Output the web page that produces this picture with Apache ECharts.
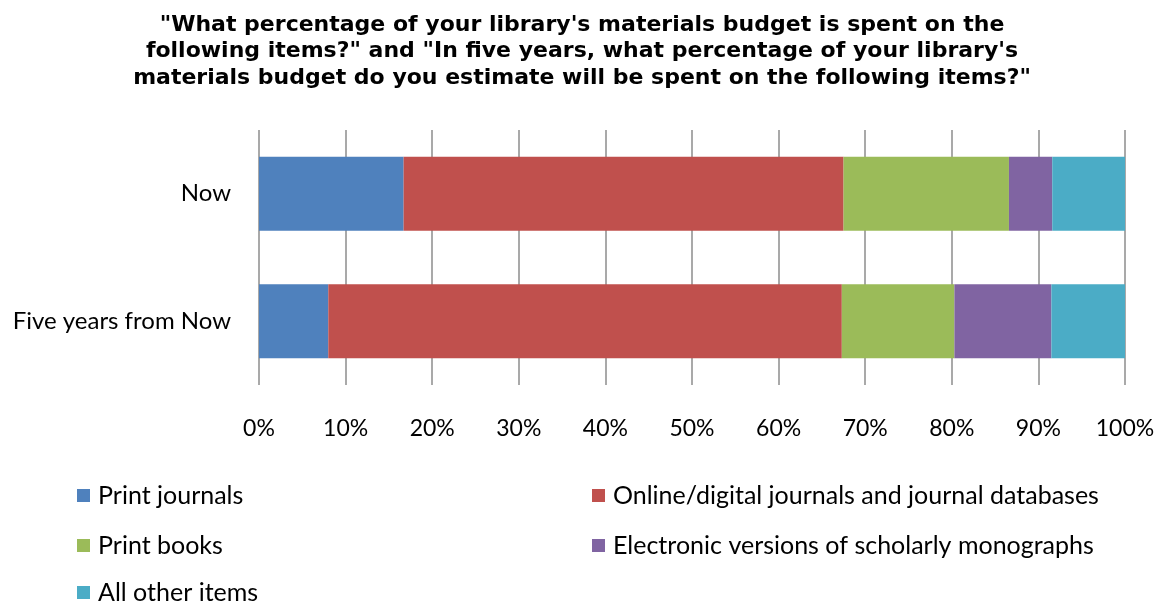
<!DOCTYPE html>
<html>
<head>
<meta charset="utf-8">
<script src="https://cdn.jsdelivr.net/npm/echarts@6/dist/echarts.min.js"></script>
<style>
  html, body { margin: 0; padding: 0; background: #fff; }
  #chart { width: 1159px; height: 603px; }
</style>
</head>
<body>
<div id="chart"></div>
<script>
// Budget share by material type, now and in five years (percent of total)
const categories = ['Now', 'Five years from Now'];
const seriesNames = [
  'Print journals',
  'Online/digital journals and journal databases',
  'Print books',
  'Electronic versions of scholarly monographs',
  'All other items'
];
const printJournals = [16.7, 8.0];
const onlineJournals = [50.8, 59.3];
const printBooks = [19.1, 13.0];
const electronicMonographs = [5.0, 11.2];
const otherItems = [8.4, 8.5];
const tickLabels = ['0%', '10%', '20%', '30%', '40%', '50%', '60%', '70%', '80%', '90%', '100%'];

const colors = ['#4F81BD', '#C0504D', '#9BBB59', '#8064A2', '#4BACC6'];
const values = [printJournals, onlineJournals, printBooks, electronicMonographs, otherItems];
const font = 'Lato, "Open Sans", sans-serif';

// legend entries laid out in two columns, three rows
const legendSlots = [
  { left: 77, top: 483 },   // Print journals
  { left: 592, top: 483 },  // Online/digital journals
  { left: 77, top: 533 },   // Print books
  { left: 592, top: 533 },  // Electronic monographs
  { left: 77, top: 580 }    // All other items
];

const chart = echarts.init(document.getElementById('chart'), null, { renderer: 'canvas' });

chart.setOption({
  animation: false,
  color: colors,
  title: {
    text: '"What percentage of your library\'s materials budget is spent on the\nfollowing items?" and "In five years, what percentage of your library\'s\nmaterials budget do you estimate will be spent on the following items?"',
    left: 577,
    top: 7,
    textAlign: 'center',
    textStyle: {
      fontFamily: '"DejaVu Sans", sans-serif',
      fontWeight: 'bold',
      fontSize: 22,
      lineHeight: 26.5,
      color: '#000'
    }
  },
  legend: seriesNames.map((name, i) => ({
    left: legendSlots[i].left,
    top: legendSlots[i].top,
    padding: 0,
    itemWidth: 13, itemHeight: 13,
    icon: 'rect',
    textStyle: { fontFamily: font, fontSize: 25, color: '#000', padding: [0, 0, 0, 3] },
    data: [name]
  })),
  grid: { left: 259, right: 34, top: 130, height: 255, containLabel: false },
  xAxis: {
    type: 'value',
    min: 0, max: 100, interval: 10,
    axisLine: { show: false },
    axisTick: { show: false },
    splitLine: { show: true, lineStyle: { color: '#8C8C8C', width: 1.5 } },
    axisLabel: {
      fontFamily: font, fontSize: 23, color: '#000', margin: 32,
      formatter: v => tickLabels[Math.round(v / 10)]
    }
  },
  yAxis: {
    type: 'category',
    inverse: true,
    data: categories,
    axisLine: { show: false },
    axisTick: { show: false },
    axisLabel: { fontFamily: font, fontSize: 24, color: '#000', margin: 28 }
  },
  series: seriesNames.map((name, i) => ({
    name,
    type: 'bar',
    stack: 'total',
    barCategoryGap: '42%',
    data: values[i],
    itemStyle: { color: colors[i] }
  }))
});
</script>
</body>
</html>
